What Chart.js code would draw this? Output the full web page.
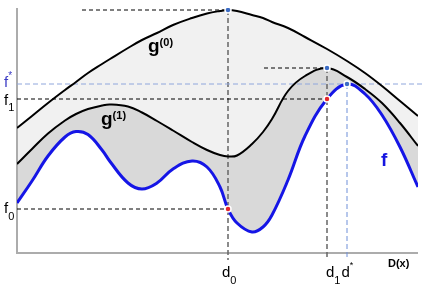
<!DOCTYPE html>
<html lang="en">
<head>
<meta charset="UTF-8" />
<title>Upper bounds g(0), g(1) of f</title>
<script src="https://cdn.jsdelivr.net/npm/chart.js"></script>
<style>
  body { margin: 0; background: #ffffff; }
  .wrap { position: relative; width: 425px; height: 286px; }
</style>
</head>
<body>
<div class="wrap"><canvas id="chart"></canvas></div>
<script>
  // sample positions along D(x) and the three curves
  const xs = [0, 15, 31, 48, 59, 71, 85, 93, 111, 125, 140, 156, 175, 190, 203, 211, 220, 235, 246, 255, 271, 288, 310, 330, 348, 365, 383, 401];
  const g0 = [125, 137, 150, 163, 171, 180, 189, 194, 205, 213, 220, 228, 235, 239.5, 242, 243, 242, 238, 235, 231, 225, 216, 204, 192, 180, 167, 152, 137];
  const g1 = [89, 104, 119.5, 132.5, 139, 144, 147.5, 148.5, 146.5, 140.5, 132, 122.5, 111, 103, 98, 96.5, 97.5, 109, 121, 134, 162, 177, 185, 176, 164, 150, 130, 107];
  const f = [50, 72, 97, 116, 121.5, 118.5, 103, 91.5, 70, 64, 70, 84, 92, 86, 66, 44, 30, 21, 26, 38, 73, 117, 154, 169, 159, 138, 106, 66];

  const d0 = 211, d1 = 310, dStar = 330;
  const f0 = f[xs.indexOf(d0)];
  const f1 = f[xs.indexOf(d1)];
  const fStar = f[xs.indexOf(dStar)];
  const g0Peak = g0[xs.indexOf(d0)];
  const g1Peak = g1[xs.indexOf(d1)];

  const curve = ys => xs.map((x, i) => ({ x: x, y: ys[i] }));
  const seg = (xa, ya, xb, yb) => [{ x: xa, y: ya }, { x: xb, y: yb }];

  const dashed = (data, color, width, dash) => ({
    data: data,
    borderColor: color,
    borderWidth: width,
    borderDash: dash,
    pointRadius: 0,
    tension: 0,
    fill: false,
    clip: false,
    order: 4
  });

  const font = (size, bold) => (bold ? 'bold ' : '') + size + 'px "Liberation Sans", Arial, sans-serif';

  function label(ctx, s, x, y, size, color, bold) {
    ctx.font = font(size, bold);
    ctx.fillStyle = color;
    ctx.fillText(s, x, y);
    return x + ctx.measureText(s).width;
  }

  const axisLines = {
    id: 'axisLines',
    beforeDatasetsDraw(chart) {
      const { ctx, chartArea: a } = chart;
      ctx.save();
      ctx.strokeStyle = '#acacac';
      ctx.lineWidth = 2;
      ctx.beginPath();
      ctx.moveTo(a.left, a.top);
      ctx.lineTo(a.left, a.bottom);
      ctx.lineTo(a.right, a.bottom);
      ctx.stroke();
      ctx.restore();
    }
  };

  const labels = {
    id: 'labels',
    afterDraw(chart) {
      const ctx = chart.ctx;
      const sx = chart.scales.x, sy = chart.scales.y;
      const px = v => sx.getPixelForValue(v);
      const py = v => sy.getPixelForValue(v);
      ctx.save();
      ctx.textBaseline = 'alphabetic';

      // y-axis marks
      let e = label(ctx, 'f', 4, py(fStar) + 3, 15, '#3a3ac4', false);
      label(ctx, '*', e, py(fStar) - 5, 10, '#3a3ac4', false);
      e = label(ctx, 'f', 4, py(f1) + 6, 15, '#000', false);
      label(ctx, '1', e, py(f1) + 12, 11, '#000', false);
      e = label(ctx, 'f', 4, py(f0) + 4, 15, '#000', false);
      label(ctx, '0', e, py(f0) + 11, 11, '#000', false);

      // x-axis marks
      const base = py(0);
      e = label(ctx, 'd', px(d0) - 6, base + 24, 15, '#000', false);
      label(ctx, '0', e, base + 31, 11, '#000', false);
      e = label(ctx, 'd', px(d1) - 1, base + 24, 15, '#000', false);
      e = label(ctx, '1', e, base + 31, 11, '#000', false);
      e = label(ctx, 'd', e + 1, base + 24, 15, '#000', false);
      label(ctx, '*', e, base + 15, 9, '#000', false);
      label(ctx, 'D(x)', px(371), base + 14, 11, '#000', true);

      // curve names
      e = label(ctx, 'g', px(131), py(201), 19, '#000', true);
      label(ctx, '(0)', e, py(207), 11, '#000', true);
      e = label(ctx, 'g', px(84), py(128), 19, '#000', true);
      label(ctx, '(1)', e, py(134), 11, '#000', true);
      label(ctx, 'f', px(364), py(87), 19, '#1515e0', true);
      ctx.restore();
    }
  };

  new Chart(document.getElementById('chart'), {
    type: 'line',
    data: {
      datasets: [
        { label: 'g(0)', data: curve(g0), borderColor: '#000', borderWidth: 2, backgroundColor: '#f1f1f1',
          fill: '+1', pointRadius: 0, tension: 0.4, order: 3 },
        { label: 'g(1)', data: curve(g1), borderColor: '#000', borderWidth: 2, backgroundColor: '#d9d9d9',
          fill: '+1', pointRadius: 0, tension: 0.4, order: 3 },
        { label: 'f', data: curve(f), borderColor: '#1515e6', borderWidth: 3,
          fill: false, pointRadius: 0, tension: 0.4, order: 3 },

        dashed(seg(65, g0Peak, d0, g0Peak), '#000', 1, [4, 3]),
        dashed(seg(247, g1Peak, d1, g1Peak), '#000', 1, [4, 3]),
        dashed(seg(0, f1, d1, f1), '#000', 1, [4, 3]),
        dashed(seg(0, f0, d0, f0), '#000', 1, [4, 3]),
        dashed(seg(0, fStar, 408, fStar), '#8fa6dc', 1, [5, 3]),
        dashed(seg(d0, g0Peak, d0, -7), '#666', 1.5, [5, 3]),
        dashed(seg(d1, g1Peak, d1, -7), '#666', 1.5, [5, 3]),
        dashed(seg(dStar, fStar, dStar, -7), '#6f8fd8', 1, [5, 3]),

        { label: 'maxima', data: [{ x: d0, y: g0Peak }, { x: d1, y: g1Peak }, { x: dStar, y: fStar }],
          showLine: false, pointRadius: 3, pointBackgroundColor: '#3c6cc4', pointBorderColor: '#fff',
          pointBorderWidth: 1.5, order: 1 },
        { label: 'f at d', data: [{ x: d0, y: f0 }, { x: d1, y: f1 }],
          showLine: false, pointRadius: 3, pointBackgroundColor: '#e4262c', pointBorderColor: '#fff',
          pointBorderWidth: 1.5, order: 1 }
      ]
    },
    options: {
      responsive: true,
      maintainAspectRatio: false,
      animation: false,
      layout: { padding: { left: 17, right: 7, top: 8, bottom: 33 } },
      scales: {
        x: { type: 'linear', min: 0, max: 401, display: false },
        y: { min: 0, max: 245, display: false }
      },
      plugins: {
        legend: { display: false },
        tooltip: { enabled: false },
        filler: { drawTime: 'beforeDatasetsDraw' }
      }
    },
    plugins: [axisLines, labels]
  });
</script>
</body>
</html>
